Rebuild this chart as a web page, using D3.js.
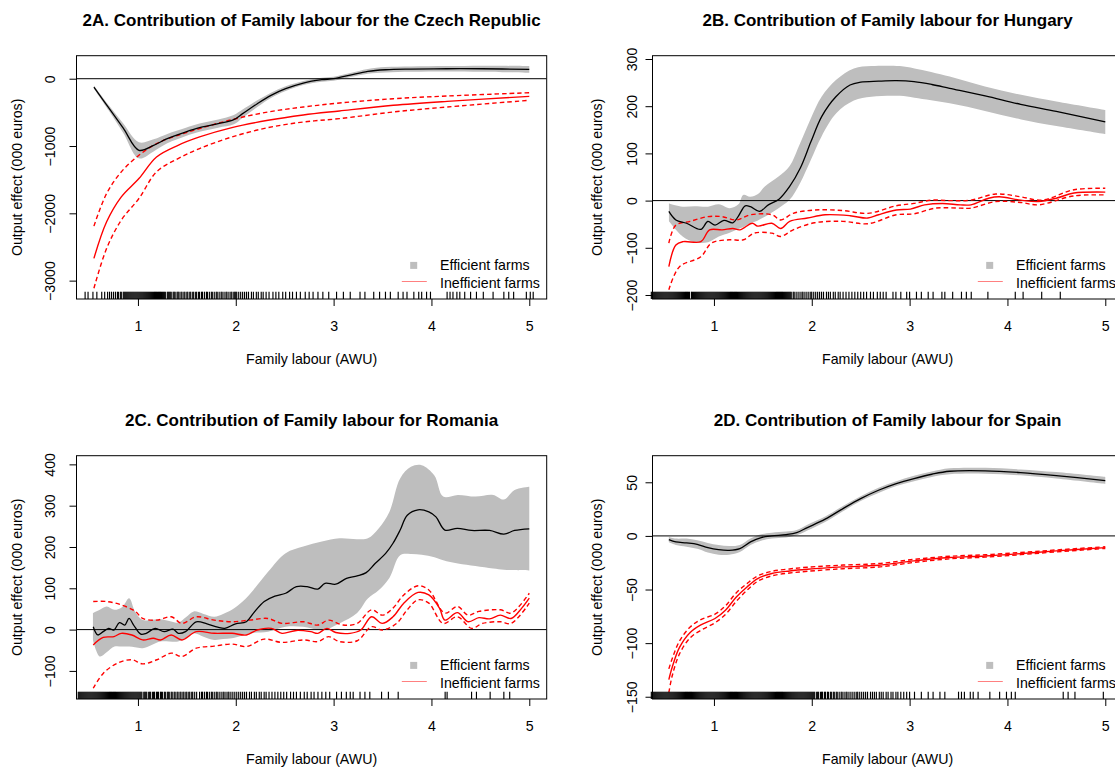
<!DOCTYPE html>
<html><head><meta charset="utf-8">
<script src="https://cdn.jsdelivr.net/npm/d3@7"></script>
<style>body{margin:0;background:#fff;}svg{display:block;font-family:"Liberation Sans",Arial,Helvetica,sans-serif;}</style>
</head><body><script>
// ---------- shared ----------
const xTicks = [1, 2, 3, 4, 5];
const xTitle = "Family labour (AWU)";
const yTitle = "Output effect (000 euros)";
const legendLabels = ["Efficient farms", "Inefficient farms"];

// ---------- 2A Czech Republic ----------
const czechTitle = "2A. Contribution of Family labour for the Czech Republic";
const czechYTicks = [-3000, -2000, -1000, 0];
const czechYDomain = [-3273, 342];
const czechEffX = [0.55,0.7,0.85,1.01,1.16,1.30,1.49,1.63,1.82,1.98,2.07,2.22,2.36,2.51,2.69,2.88,3.0,3.17,3.35,3.53,3.79,4.16,4.52,5.0];
const czechEffY = [-124,-430,-735,-1063,-990,-890,-790,-727,-667,-608,-519,-371,-247,-148,-64,-15,0,54,109,133,143,148,148,138];
const czechBandX = czechEffX;
const czechBandHi = [-99,-390,-665,-943,-900,-820,-730,-667,-607,-538,-459,-321,-207,-113,-34,15,30,84,144,173,183,188,193,188];
const czechBandLo = [-149,-470,-805,-1183,-1080,-960,-850,-787,-727,-678,-579,-421,-287,-183,-94,-45,-30,24,74,93,103,108,103,88];
const czechIneffX = [0.55,0.68,0.83,1.01,1.19,1.41,1.63,1.96,2.33,2.69,3.06,3.61,4.16,5.0];
const czechIneffY = [-2669,-2126,-1755,-1483,-1162,-989,-865,-727,-618,-539,-479,-395,-336,-262];
const czechIneffUpX = czechIneffX;
const czechIneffUp = [-2190,-1705,-1384,-1137,-964,-840,-741,-608,-494,-420,-361,-297,-257,-208];
const czechIneffLoX = czechIneffX;
const czechIneffLo = [-3114,-2521,-2101,-1780,-1384,-1186,-1038,-865,-727,-643,-593,-494,-420,-321];
const czechRug = [0.46,0.49,0.54,0.58,0.63,0.66,0.69,0.71,0.73,0.75,0.77,0.79,0.8,0.82,0.83,0.85,0.86,0.87,0.88,0.89,0.9,0.91,0.92,0.93,0.94,0.95,0.96,0.97,0.98,0.99,1.0,1.01,1.02,1.03,1.04,1.05,1.06,1.07,1.08,1.09,1.1,1.11,1.12,1.13,1.14,1.15,1.16,1.17,1.18,1.19,1.2,1.21,1.22,1.23,1.24,1.25,1.26,1.27,1.28,1.3,1.31,1.32,1.33,1.34,1.36,1.37,1.38,1.4,1.41,1.42,1.44,1.45,1.47,1.48,1.5,1.51,1.53,1.54,1.56,1.57,1.59,1.6,1.62,1.63,1.65,1.66,1.68,1.7,1.71,1.73,1.75,1.76,1.78,1.8,1.81,1.83,1.85,1.86,1.88,1.9,1.91,1.93,1.95,1.96,1.98,1.99,2.0,2.01,2.03,2.05,2.07,2.09,2.11,2.13,2.16,2.18,2.21,2.23,2.26,2.28,2.31,2.34,2.38,2.41,2.44,2.48,2.51,2.55,2.58,2.62,2.66,2.71,2.75,2.79,2.84,2.89,2.95,3.03,3.1,3.17,3.27,3.32,3.41,3.47,3.53,3.58,3.66,3.71,3.75,3.82,3.87,3.9,3.95,3.99,4.16,4.19,4.22,4.26,4.29,4.34,4.4,4.46,4.53,4.63,4.74,4.79,4.84,4.97,5.01,5.04];

// ---------- 2B Hungary ----------
const hungaryTitle = "2B. Contribution of Family labour for Hungary";
const hungaryYTicks = [-200, -100, 0, 100, 200, 300];
const hungaryYDomain = [-208.5, 307];
const hungaryEffX = [0.539,0.611,0.720,0.866,0.938,1.011,1.102,1.193,1.247,1.320,1.374,1.465,1.556,1.665,1.774,1.883,1.992,2.101,2.246,2.391,2.500,2.682,2.864,3.045,3.227,3.409,3.772,4.135,4.499,5.0];
const hungaryEffY = [-23,-41,-48,-61,-44,-52,-42,-47,-34,-11,-13,-23,-9,3,30,69,125,178,220,245,251,253,254,252,246,238,222,204,189,167];
const hungaryBandX = [0.54,0.68,0.80,0.94,1.05,1.16,1.25,1.30,1.37,1.45,1.52,1.66,1.77,1.88,1.99,2.10,2.25,2.43,2.61,2.90,3.05,3.41,3.77,4.14,4.50,5.0];
const hungaryBandHi = [-6,-13,-12,-13,-8,-16,-8,12,8,14,30,51,72,121,174,220,256,280,285,285,280,263,242,224,210,192];
const hungaryBandLo = [-44,-76,-88,-88,-76,-68,-60,-56,-48,-42,-34,-16,1,37,86,136,185,212,220,222,218,206,190,172,158,141];
const hungaryIneffX = [0.539,0.611,0.684,0.866,0.956,1.084,1.193,1.265,1.392,1.447,1.592,1.683,1.774,1.955,2.137,2.391,2.573,2.682,2.864,3.009,3.154,3.336,3.518,3.627,3.808,3.917,4.135,4.317,4.498,4.680,5.0];
const hungaryIneffY = [-140,-94,-87,-87,-62,-62,-59,-62,-48,-54,-48,-59,-44,-37,-30,-32,-37,-30,-20,-18,-9,-6,-9,-9,5,8,1,-2,5,16,18];
const hungaryIneffUpX = [0.539,0.611,0.757,0.938,1.084,1.229,1.374,1.592,1.683,1.810,2.028,2.319,2.573,2.864,3.045,3.227,3.409,3.627,3.881,4.135,4.353,4.680,5.0];
const hungaryIneffUp = [-90,-52,-44,-34,-34,-41,-30,-30,-41,-27,-20,-21,-27,-11,-6,1,0,1,14,8,1,23,26];
const hungaryIneffLoX = [0.539,0.648,0.866,0.975,1.156,1.302,1.411,1.592,1.683,1.810,2.028,2.319,2.573,2.864,3.045,3.263,3.518,3.627,3.881,4.135,4.317,4.680,5.0];
const hungaryIneffLo = [-189,-140,-119,-90,-83,-83,-69,-69,-76,-62,-47,-44,-49,-30,-28,-16,-16,-16,-2,-4,-9,10,12];
const hungaryRug = [0.36,0.37,0.38,0.39,0.4,0.41,0.42,0.43,0.44,0.45,0.46,0.47,0.48,0.49,0.5,0.51,0.52,0.53,0.54,0.55,0.56,0.57,0.58,0.59,0.6,0.61,0.62,0.63,0.64,0.65,0.66,0.67,0.68,0.69,0.7,0.71,0.72,0.73,0.74,0.75,0.77,0.78,0.79,0.8,0.81,0.82,0.83,0.84,0.85,0.86,0.87,0.88,0.89,0.9,0.91,0.92,0.93,0.94,0.95,0.96,0.97,0.98,0.99,1.0,1.01,1.02,1.03,1.04,1.05,1.06,1.07,1.08,1.09,1.1,1.11,1.12,1.13,1.14,1.15,1.16,1.17,1.18,1.19,1.2,1.21,1.22,1.23,1.24,1.25,1.26,1.27,1.28,1.29,1.3,1.31,1.32,1.33,1.34,1.35,1.36,1.37,1.38,1.39,1.4,1.41,1.42,1.43,1.44,1.45,1.46,1.47,1.48,1.49,1.5,1.51,1.52,1.53,1.54,1.55,1.56,1.57,1.58,1.59,1.6,1.61,1.62,1.63,1.64,1.65,1.66,1.67,1.68,1.69,1.7,1.71,1.72,1.73,1.74,1.75,1.76,1.77,1.78,1.79,1.81,1.82,1.84,1.86,1.88,1.9,1.91,1.93,1.95,1.97,1.99,2.0,2.02,2.04,2.06,2.08,2.1,2.12,2.15,2.17,2.19,2.22,2.24,2.27,2.29,2.32,2.35,2.38,2.41,2.44,2.47,2.5,2.53,2.56,2.6,2.63,2.67,2.7,2.73,2.76,2.83,2.86,2.91,2.97,3.0,3.07,3.12,3.19,3.24,3.33,3.36,3.44,3.53,3.58,3.63,3.8,4.08,4.16,4.35,4.54];

// ---------- 2C Romania ----------
const romaniaTitle = "2C. Contribution of Family labour for Romania";
const romaniaYTicks = [-100, 0, 100, 200, 300, 400];
const romaniaYDomain = [-168, 421];
const romaniaEffX = [0.543,0.590,0.645,0.700,0.755,0.810,0.865,0.909,0.956,1.029,1.084,1.176,1.267,1.358,1.413,1.486,1.596,1.706,1.815,1.888,1.998,2.108,2.181,2.291,2.400,2.510,2.620,2.729,2.839,2.912,3.022,3.132,3.241,3.333,3.424,3.534,3.607,3.680,3.753,3.863,3.973,4.046,4.137,4.265,4.411,4.594,4.740,4.850,5.0];
const romaniaEffY = [7,-13,-5,3,-1,17,11,27,11,-11,-9,3,-5,1,-9,-5,19,14,6,3,14,19,40,68,81,88,104,104,98,112,110,124,130,138,160,185,209,241,277,290,285,273,241,245,240,240,231,240,244];
const romaniaBandX = [0.54,0.61,0.68,0.76,0.84,0.91,0.97,1.05,1.14,1.23,1.32,1.41,1.49,1.57,1.67,1.78,1.87,1.96,2.07,2.18,2.33,2.51,2.69,2.88,3.06,3.24,3.35,3.46,3.57,3.68,3.79,3.90,4.03,4.12,4.27,4.45,4.63,4.74,4.85,5.0];
const romaniaBandHi = [40,48,56,48,55,76,44,23,24,25,21,17,30,44,38,31,38,48,68,96,140,185,201,213,221,219,221,245,285,366,394,398,373,322,326,322,326,315,338,346];
const romaniaBandLo = [-25,-65,-55,-41,-41,-41,-43,-45,-37,-29,-29,-29,-20,-9,-17,-25,-23,-21,-14,-8,-5,7,7,-1,15,40,75,95,125,180,183,181,175,168,160,154,148,145,144,143];
const romaniaIneffX = [0.543,0.645,0.755,0.828,0.938,1.048,1.157,1.230,1.340,1.450,1.596,1.779,1.962,2.108,2.218,2.364,2.473,2.620,2.766,2.839,2.931,3.022,3.168,3.278,3.388,3.497,3.607,3.717,3.863,3.973,4.082,4.137,4.265,4.375,4.485,4.594,4.704,4.814,4.923,5.0];
const romaniaIneffY = [-37,-19,-17,-9,-13,-25,-21,-25,-13,-25,-5,-9,-9,-13,-1,3,-9,-2,-5,-9,3,-7,-9,-1,31,15,31,64,90,84,52,23,41,19,29,26,35,27,52,76];
const romaniaIneffUpX = [0.543,0.682,0.828,0.974,1.048,1.194,1.340,1.450,1.596,1.779,1.962,2.144,2.327,2.473,2.693,2.839,2.949,3.095,3.241,3.388,3.497,3.607,3.717,3.863,3.973,4.137,4.265,4.375,4.485,4.704,4.814,5.0];
const romaniaIneffUp = [68,68,60,44,27,23,31,15,31,23,19,23,27,15,19,11,23,11,15,48,35,52,84,106,96,40,56,35,44,48,40,88];
const romaniaIneffLoX = [0.543,0.645,0.792,0.938,1.048,1.194,1.340,1.450,1.596,1.779,1.962,2.108,2.291,2.473,2.693,2.839,2.949,3.059,3.241,3.388,3.497,3.644,3.753,3.863,3.973,4.119,4.265,4.411,4.521,4.704,4.814,5.0];
const romaniaIneffLo = [-142,-106,-81,-73,-83,-73,-57,-65,-45,-40,-35,-41,-23,-31,-25,-29,-17,-29,-27,7,-1,15,48,72,64,15,31,3,15,19,15,64];
const romaniaRug = [0.39,0.4,0.41,0.42,0.43,0.44,0.45,0.46,0.47,0.48,0.49,0.5,0.51,0.52,0.53,0.54,0.55,0.56,0.57,0.58,0.59,0.6,0.61,0.62,0.63,0.64,0.65,0.66,0.67,0.68,0.69,0.7,0.71,0.72,0.73,0.74,0.75,0.76,0.77,0.78,0.79,0.8,0.81,0.82,0.83,0.84,0.85,0.86,0.87,0.88,0.89,0.9,0.91,0.92,0.93,0.94,0.95,0.96,0.97,0.98,0.99,1.0,1.01,1.02,1.03,1.04,1.06,1.07,1.08,1.09,1.11,1.12,1.13,1.15,1.16,1.17,1.19,1.2,1.21,1.23,1.24,1.25,1.27,1.28,1.3,1.31,1.32,1.34,1.35,1.37,1.38,1.4,1.41,1.43,1.44,1.46,1.47,1.49,1.5,1.52,1.53,1.55,1.56,1.58,1.6,1.63,1.65,1.66,1.68,1.7,1.71,1.73,1.75,1.76,1.78,1.8,1.81,1.83,1.85,1.87,1.88,1.9,1.92,1.93,1.95,1.97,1.99,2.01,2.03,2.05,2.07,2.09,2.11,2.14,2.16,2.19,2.21,2.24,2.26,2.29,2.31,2.34,2.37,2.4,2.43,2.46,2.49,2.52,2.56,2.59,2.62,2.66,2.7,2.73,2.77,2.8,2.84,2.88,2.92,2.96,3.03,3.08,3.13,3.17,3.2,3.27,3.32,3.37,3.49,3.56,3.66,4.14,4.16,4.41,4.46,4.6,4.74,4.8];

// ---------- 2D Spain ----------
const spainTitle = "2D. Contribution of Family labour for Spain";
const spainYTicks = [-150, -100, -50, 0, 50];
const spainYDomain = [-152.1, 74.8];
const spainEffX = [0.539,0.611,0.720,0.829,0.938,1.047,1.156,1.265,1.374,1.483,1.592,1.737,1.846,1.955,2.137,2.319,2.500,2.682,2.864,3.045,3.227,3.409,3.772,4.135,4.499,5.0];
const spainEffY = [-3.4,-5.6,-6.5,-7.8,-10.9,-12.8,-13.4,-11.8,-5.6,-1.6,0,1.2,3.1,7.8,15.6,25.5,34.8,42.6,48.8,53.5,57.5,60.3,60.7,59.1,56.3,51.6];
const spainBandX = spainEffX;
const spainBandHi = [-1,-2.5,-2.5,-4,-6.5,-8.5,-9.5,-8.5,-2.5,1.5,3,4,5.5,10.5,18,28,37,45,51,56,60,63,63.5,62,59.5,55];
const spainBandLo = [-6,-8.5,-10,-12,-15.5,-17.5,-17.5,-15,-8.5,-4.5,-2.5,-1.5,0.5,5,13,23,32.5,40,46.5,51,55,57.5,58,56.5,53.5,48.5];
const spainIneffX = [0.539,0.575,0.648,0.757,0.866,1.011,1.120,1.229,1.338,1.447,1.592,1.774,1.955,2.319,2.682,3.045,3.409,3.772,4.135,4.499,5.0];
const spainIneffY = [-134,-122,-104,-90,-83,-77,-69,-57,-47.6,-39.8,-35.1,-32.7,-31.1,-28.9,-27.4,-23.3,-20.2,-18.7,-16.5,-14.0,-10.9];
const spainIneffUpX = spainIneffX;
const spainIneffUp = [-124,-114,-98,-85,-78,-73,-65,-53,-44.5,-37.3,-33,-30.8,-29.2,-27.2,-25.8,-21.9,-19,-17.6,-15.5,-13.1,-10.1];
const spainIneffLoX = spainIneffX;
const spainIneffLo = [-146,-130,-110,-95,-88,-81,-73,-61,-50.7,-42.3,-37.2,-34.6,-33,-30.6,-29,-24.7,-21.4,-19.8,-17.5,-14.9,-11.7];
const spainRug = [0.36,0.37,0.38,0.39,0.4,0.41,0.42,0.43,0.44,0.45,0.46,0.47,0.48,0.49,0.5,0.51,0.52,0.53,0.54,0.55,0.56,0.57,0.58,0.59,0.6,0.61,0.62,0.63,0.64,0.65,0.66,0.67,0.68,0.69,0.7,0.71,0.72,0.73,0.74,0.75,0.76,0.77,0.78,0.79,0.8,0.81,0.82,0.83,0.84,0.85,0.86,0.87,0.88,0.89,0.9,0.91,0.92,0.93,0.94,0.95,0.96,0.97,0.98,0.99,1.0,1.01,1.02,1.03,1.04,1.05,1.06,1.07,1.08,1.09,1.1,1.11,1.12,1.13,1.14,1.15,1.16,1.17,1.18,1.19,1.2,1.21,1.22,1.23,1.24,1.25,1.26,1.27,1.28,1.29,1.3,1.31,1.32,1.33,1.34,1.35,1.36,1.37,1.38,1.39,1.4,1.41,1.42,1.43,1.44,1.45,1.46,1.47,1.48,1.49,1.5,1.51,1.52,1.53,1.54,1.55,1.56,1.57,1.58,1.59,1.6,1.61,1.62,1.63,1.64,1.65,1.66,1.67,1.68,1.69,1.7,1.71,1.72,1.73,1.74,1.75,1.76,1.77,1.78,1.79,1.8,1.81,1.82,1.83,1.84,1.85,1.86,1.87,1.88,1.89,1.9,1.91,1.92,1.93,1.94,1.95,1.96,1.97,1.98,1.99,2.0,2.01,2.02,2.03,2.05,2.06,2.07,2.09,2.1,2.11,2.13,2.14,2.16,2.17,2.19,2.2,2.22,2.23,2.25,2.26,2.28,2.3,2.31,2.33,2.35,2.36,2.38,2.4,2.42,2.44,2.46,2.47,2.49,2.51,2.53,2.55,2.57,2.6,2.62,2.64,2.66,2.69,2.71,2.73,2.76,2.78,2.81,2.83,2.86,2.88,2.91,2.94,2.97,3.0,3.05,3.12,3.19,3.24,3.31,3.36,3.5,3.53,3.56,3.62,3.65,3.7,3.82,3.92,3.99,4.04,4.08,4.57,4.62,4.69,4.98];

// ---------- assemble ----------
const zip = (xs, ys) => xs.map((x, i) => ({x, y: ys[i]}));
const zip3 = (xs, hi, lo) => xs.map((x, i) => ({x, hi: hi[i], lo: lo[i]}));
const panels = [
  {col:0,row:0,title:czechTitle,yDomain:czechYDomain,yTicks:czechYTicks,eff:zip(czechEffX,czechEffY),band:zip3(czechBandX,czechBandHi,czechBandLo),ineff:zip(czechIneffX,czechIneffY),up:zip(czechIneffUpX,czechIneffUp),lo:zip(czechIneffLoX,czechIneffLo),rug:czechRug},
  {col:1,row:0,title:hungaryTitle,yDomain:hungaryYDomain,yTicks:hungaryYTicks,eff:zip(hungaryEffX,hungaryEffY),band:zip3(hungaryBandX,hungaryBandHi,hungaryBandLo),ineff:zip(hungaryIneffX,hungaryIneffY),up:zip(hungaryIneffUpX,hungaryIneffUp),lo:zip(hungaryIneffLoX,hungaryIneffLo),rug:hungaryRug},
  {col:0,row:1,title:romaniaTitle,yDomain:romaniaYDomain,yTicks:romaniaYTicks,eff:zip(romaniaEffX,romaniaEffY),band:zip3(romaniaBandX,romaniaBandHi,romaniaBandLo),ineff:zip(romaniaIneffX,romaniaIneffY),up:zip(romaniaIneffUpX,romaniaIneffUp),lo:zip(romaniaIneffLoX,romaniaIneffLo),rug:romaniaRug},
  {col:1,row:1,title:spainTitle,yDomain:spainYDomain,yTicks:spainYTicks,eff:zip(spainEffX,spainEffY),band:zip3(spainBandX,spainBandHi,spainBandLo),ineff:zip(spainIneffX,spainIneffY),up:zip(spainIneffUpX,spainIneffUp),lo:zip(spainIneffLoX,spainIneffLo),rug:spainRug}
];

// ---------- layout ----------
const W = 1115, H = 767;
const BOX = {left: 76.5, right: 546.7, top: 55.7, bottom: 299};
const DX = 576, DY = 400;
const xDomain = [0.372, 5.178];
const BAND = "#bebebe", RED = "#ff0000";
const FS = 14.2, FS_TITLE = 17;

const svg = d3.select("body").append("svg").attr("width", W).attr("height", H);
svg.append("rect").attr("width", W).attr("height", H).attr("fill", "#fff");

panels.forEach((p, i) => {
  const g = svg.append("g").attr("transform", `translate(${p.col * DX},${p.row * DY})`);
  const x = d3.scaleLinear().domain(xDomain).range([BOX.left, BOX.right]);
  const y = d3.scaleLinear().domain(p.yDomain).range([BOX.bottom, BOX.top]);
  const clipId = "clip" + i;
  g.append("clipPath").attr("id", clipId).append("rect")
    .attr("x", BOX.left).attr("y", BOX.top)
    .attr("width", BOX.right - BOX.left).attr("height", BOX.bottom - BOX.top);
  const plot = g.append("g").attr("clip-path", `url(#${clipId})`);
  const curve = d3.curveCatmullRom.alpha(0.5);

  plot.append("path").datum(p.band)
    .attr("d", d3.area().x(d => x(d.x)).y0(d => y(d.lo)).y1(d => y(d.hi)).curve(curve))
    .attr("fill", BAND).attr("stroke", "none");

  plot.append("line").attr("x1", BOX.left).attr("x2", BOX.right)
    .attr("y1", y(0)).attr("y2", y(0)).attr("stroke", "#000").attr("stroke-width", 1);

  const line = d3.line().x(d => x(d.x)).y(d => y(d.y)).curve(curve);
  [p.up, p.lo].forEach(s => plot.append("path").datum(s).attr("d", line)
    .attr("fill", "none").attr("stroke", RED).attr("stroke-width", 1.4).attr("stroke-dasharray", "4.5,3"));
  plot.append("path").datum(p.ineff).attr("d", line)
    .attr("fill", "none").attr("stroke", RED).attr("stroke-width", 1.4);
  plot.append("path").datum(p.eff).attr("d", line)
    .attr("fill", "none").attr("stroke", "#000").attr("stroke-width", 1.3);

  // rug
  const rugLen = 0.03 * (BOX.bottom - BOX.top);
  g.append("g").selectAll("line").data(p.rug).join("line")
    .attr("x1", d => x(d)).attr("x2", d => x(d))
    .attr("y1", BOX.bottom).attr("y2", BOX.bottom - rugLen)
    .attr("stroke", "#000").attr("stroke-width", 1.15);

  // box
  g.append("rect").attr("x", BOX.left).attr("y", BOX.top)
    .attr("width", BOX.right - BOX.left).attr("height", BOX.bottom - BOX.top)
    .attr("fill", "none").attr("stroke", "#000").attr("stroke-width", 1);

  // x axis
  const xa = g.append("g").attr("transform", `translate(0,${BOX.bottom})`)
    .call(d3.axisBottom(x).tickValues(xTicks).tickFormat(d3.format("d")).tickSize(7).tickSizeOuter(0).tickPadding(14.5));
  xa.select(".domain").remove();
  xa.selectAll("text").attr("font-size", FS).attr("fill", "#000").attr("font-family", null);
  xa.selectAll("line").attr("stroke", "#000");

  // y axis
  const labOff = p.col === 0 ? 26.5 : 20.8;
  const titOff = p.col === 0 ? 60 : 56;
  const ya = g.append("g").attr("transform", `translate(${BOX.left},0)`)
    .call(d3.axisLeft(y).tickValues(p.yTicks).tickFormat(d3.format("d")).tickSize(7).tickSizeOuter(0));
  ya.select(".domain").remove();
  ya.selectAll("line").attr("stroke", "#000");
  ya.selectAll("text").attr("x", null).attr("dy", null)
    .attr("transform", `translate(${-labOff},0) rotate(-90)`)
    .attr("text-anchor", "middle").attr("dominant-baseline", "central")
    .attr("font-size", FS).attr("fill", "#000").attr("font-family", null);

  // titles
  const cx = (BOX.left + BOX.right) / 2;
  g.append("text").attr("x", cx).attr("y", 20).attr("text-anchor", "middle")
    .attr("dominant-baseline", "central").attr("font-size", FS_TITLE).attr("font-weight", "bold").text(p.title);
  g.append("text").attr("x", cx).attr("y", BOX.bottom + 60).attr("text-anchor", "middle")
    .attr("dominant-baseline", "central").attr("font-size", FS).text(xTitle);
  g.append("text").attr("transform", `translate(${BOX.left - titOff},${(BOX.top + BOX.bottom) / 2}) rotate(-90)`)
    .attr("text-anchor", "middle").attr("dominant-baseline", "central").attr("font-size", FS).text(yTitle);

  // legend
  const lg = g.append("g");
  lg.append("rect").attr("x", 410.2).attr("y", 261.9).attr("width", 7).attr("height", 7).attr("fill", BAND);
  lg.append("line").attr("x1", 401.8).attr("x2", 426.8).attr("y1", 281.5).attr("y2", 281.5)
    .attr("stroke", "#ff8080").attr("stroke-width", 1);
  legendLabels.forEach((t, k) => lg.append("text").attr("x", 440).attr("y", 265.3 + k * 17.5)
    .attr("dominant-baseline", "central").attr("font-size", FS).text(t));
});
</script></body></html>
